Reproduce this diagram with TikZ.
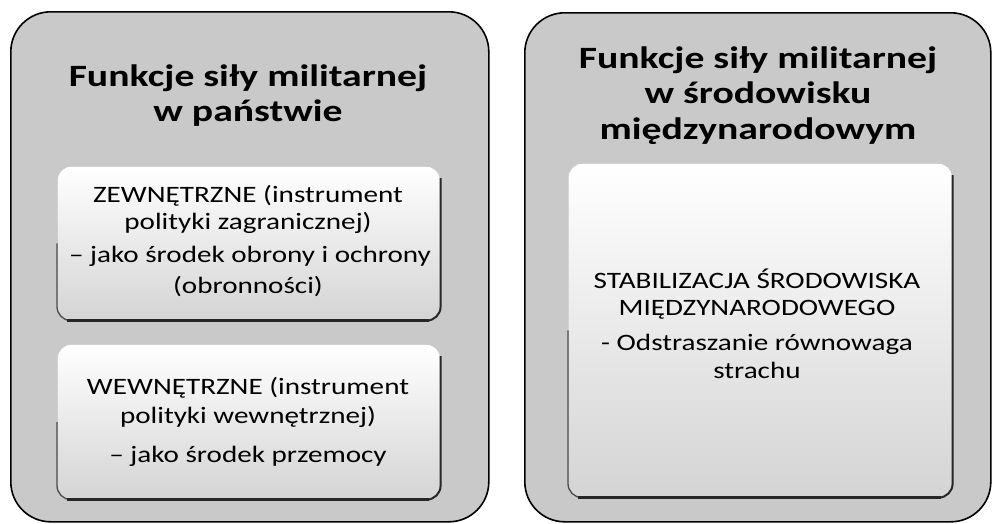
\documentclass[tikz,border=0pt]{standalone}
\usepackage{fontspec}
\setmainfont{Carlito}[FakeStretch=1.24]
\newfontfamily\titlefont{Carlito}[FakeStretch=1.28]
\definecolor{outergray}{HTML}{C9C9C9}
\definecolor{innergray}{HTML}{D4D4D4}
\begin{document}
\begin{tikzpicture}[x=1pt,y=-1pt]
\tikzset{
  outerbox/.style={draw=black, line width=1.6pt, rounded corners=40pt, fill=outergray, inner sep=0pt, anchor=north west},
  innerbox/.style={rounded corners=14pt, top color=white, bottom color=innergray, draw=gray!45, line width=0.6pt, inner sep=0pt, anchor=north west},
  shadowline/.style={draw=black!85, line width=2pt, rounded corners=14pt},
  leftline/.style={draw=black!70, line width=1.3pt, rounded corners=14pt},
  shadowbottom/.style={draw=black!85, line width=3.2pt},
  titletext/.style={font=\titlefont\bfseries\fontsize{31}{35}\selectfont, anchor=base, inner sep=0pt},
  bodytext/.style={font=\fontsize{23.5}{27}\selectfont, anchor=base, inner sep=0pt},
}
\useasboundingbox (0,0) rectangle (993,523);
\fill[white] (0,0) rectangle (993,523);

% outer boxes
\node[outerbox, minimum width=478pt, minimum height=510pt] (L) at (10,11) {};
\node[outerbox, minimum width=466pt, minimum height=509pt] (R) at (524,12) {};

% inner boxes
\node[innerbox, minimum width=383pt, minimum height=154pt] (B1) at (57,166) {};
\node[innerbox, minimum width=383pt, minimum height=155pt] (B2) at (57,344) {};
\node[innerbox, minimum width=384pt, minimum height=334pt] (B3) at (568,163) {};

% shadow edges
\foreach \b in {B1,B2,B3}{
  \draw[leftline] (\b.west) -- (\b.south west) -- ([xshift=20pt]\b.south west);
  \draw[shadowline] ([yshift=-12pt]\b.north east) -- (\b.south east) -- ([xshift=16pt]\b.south west);
  \draw[shadowbottom] ([xshift=10pt]\b.south west) -- ([xshift=-12pt]\b.south east);
}

% titles
\node[titletext] (t1) at (248,86) {Funkcje siły militarnej};
\node[titletext] (t2) at (248,121) {w państwie};
\node[titletext] (t3) at (758,68) {Funkcje siły militarnej};
\node[titletext] (t4) at (758,103) {w środowisku};
\node[titletext] (t5) at (758,139) {międzynarodowym};

% box 1
\node[bodytext] (a1) at (248,202) {ZEWNĘTRZNE (instrument};
\node[bodytext] (a2) at (248,229) {polityki zagranicznej)};
\node[bodytext] (a3) at (250,262) {– jako środek obrony i ochrony};
\node[bodytext] (a4) at (248,293) {(obronności)};

% box 2
\node[bodytext] (b1) at (248,394) {WEWNĘTRZNE (instrument};
\node[bodytext] (b2) at (248,423) {polityki wewnętrznej)};
\node[bodytext] (b3) at (248,462) {– jako środek przemocy};

% box 3
\node[bodytext] (c1) at (757,288) {STABILIZACJA ŚRODOWISKA};
\node[bodytext] (c2) at (757,315) {MIĘDZYNARODOWEGO};
\node[bodytext] (c3) at (757,350) {- Odstraszanie równowaga};
\node[bodytext] (c4) at (757,378) {strachu};
\end{tikzpicture}
\end{document}
